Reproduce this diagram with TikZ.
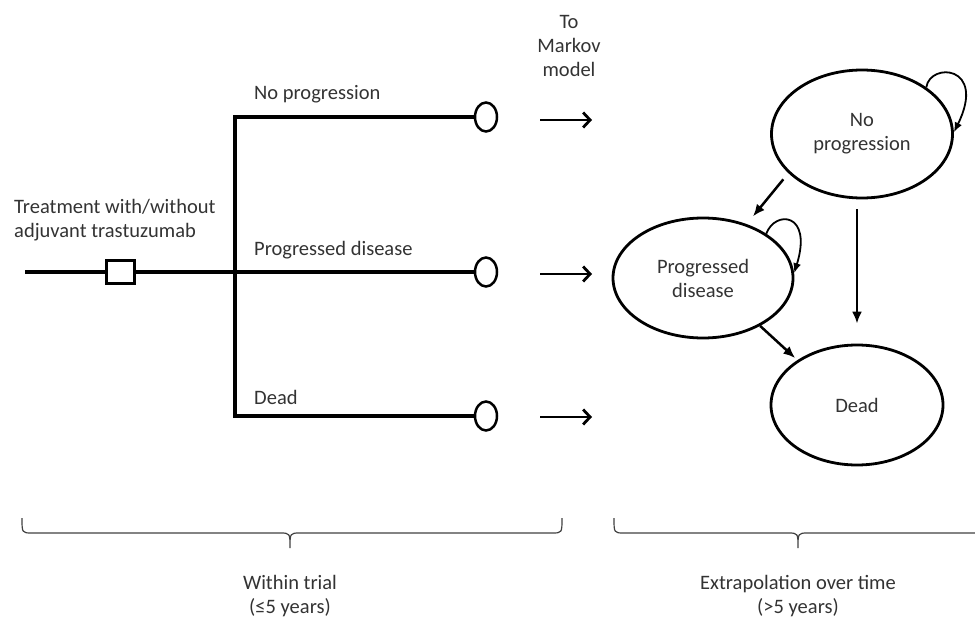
\documentclass[tikz,border=0pt]{standalone}
\usepackage{fontspec}
\setmainfont{Carlito}
\usetikzlibrary{shapes.geometric,arrows.meta}
\begin{document}
\begin{tikzpicture}[x=1pt,y=-1pt,
  txt/.style={text=black!80, font=\fontsize{20.5}{24}\selectfont, inner sep=0pt, align=center},
  tree/.style={line width=3.5pt, line join=miter},
  state/.style={ellipse, draw, line width=2.8pt, inner sep=0pt, txt},
  term/.style={ellipse, draw, line width=2.5pt, minimum width=22pt, minimum height=29pt, inner sep=0pt},
  dec/.style={rectangle, draw, line width=2.3pt, fill=white, minimum width=28pt, minimum height=23pt, inner sep=0pt},
  tr/.style={line width=2.5pt, -{Latex[length=12pt,width=10pt]}},
  lp/.style={line width=1.8pt, -{Latex[length=10pt,width=8pt]}},
  mk/.style={line width=2.8pt, -{Straight Barb[length=7pt,width=15pt]}},
  brc/.style={line width=1.2pt, black!75},
]
\useasboundingbox (0,0) rectangle (975,626);

% decision tree
\coordinate (start) at (25,272);
\node[dec] (sq) at (120.5,272) {};
\coordinate (j1) at (235,117);
\coordinate (j3) at (235,416);
\node[term] (c1) at (486,117) {};
\node[term] (c2) at (486,272) {};
\node[term] (c3) at (486,416) {};
\draw[tree] (start) -- (sq.west);
\draw[tree] (sq.east) -- (c2.west);
\draw[tree] (c1.west) -- (j1) -- (j3) -- (c3.west);

\node[txt, anchor=west] (l1) at (254,94) {No progression};
\node[txt, anchor=west] (l2) at (254,250) {Progressed disease};
\node[txt, anchor=west] (l3) at (254,397) {Dead};
\node[txt, anchor=west, align=left] (treat) at (14,220) {Treatment with/without\\adjuvant trastuzumab};
\node[txt] (tomk) at (569,46) {To\\Markov\\model};

% arrows to Markov model
\coordinate (m1a) at (540,120); \coordinate (m1b) at (592,120);
\coordinate (m2a) at (540,274); \coordinate (m2b) at (592,274);
\coordinate (m3a) at (540,417); \coordinate (m3b) at (592,417);
\draw[mk] (m1a) -- (m1b);
\draw[mk] (m2a) -- (m2b);
\draw[mk] (m3a) -- (m3b);

% Markov states
\node[state, minimum width=181pt, minimum height=128pt] (np) at (862,134) {No\\progression};
\node[state, minimum width=180pt, minimum height=120pt] (pd) at (703,278) {Progressed\\disease};
\node[state, minimum width=172pt, minimum height=120pt] (dead) at (857,405) {Dead};

\draw[tr, shorten <=8pt, shorten >=10pt] (np.208) -- (pd.51);
\draw[tr] ([xshift=-5pt,yshift=-10pt]np.south) -- ([yshift=20pt]dead.north);
\draw[tr, shorten >=3pt] (pd.320) -- (dead.143);
\draw[lp] (np.36) .. controls (930,62) and (987,65) .. (np.1);
\draw[lp] (pd.35) .. controls (775,210) and (813,212) .. (pd.3);

% braces
\coordinate (bl1) at (22,518); \coordinate (bl2) at (562,518); \coordinate (bt1) at (290,548);
\coordinate (br1) at (614,518); \coordinate (br2) at (985,533); \coordinate (bt2) at (798,548);
\draw[brc] (bl1) .. controls (22,533) .. (32,533) -- (280,533) .. controls (290,533) .. (bt1)
  .. controls (290,533) .. (300,533) -- (552,533) .. controls (562,533) .. (bl2);
\draw[brc] (br1) .. controls (614,533) .. (624,533) -- (788,533) .. controls (798,533) .. (bt2)
  .. controls (798,533) .. (808,533) -- (br2);

\node[txt] (wt) at (290,596) {Within trial\\(≤5 years)};
\node[txt] (ex) at (798,596) {Extrapolation over time\\(>5 years)};
\end{tikzpicture}
\end{document}
